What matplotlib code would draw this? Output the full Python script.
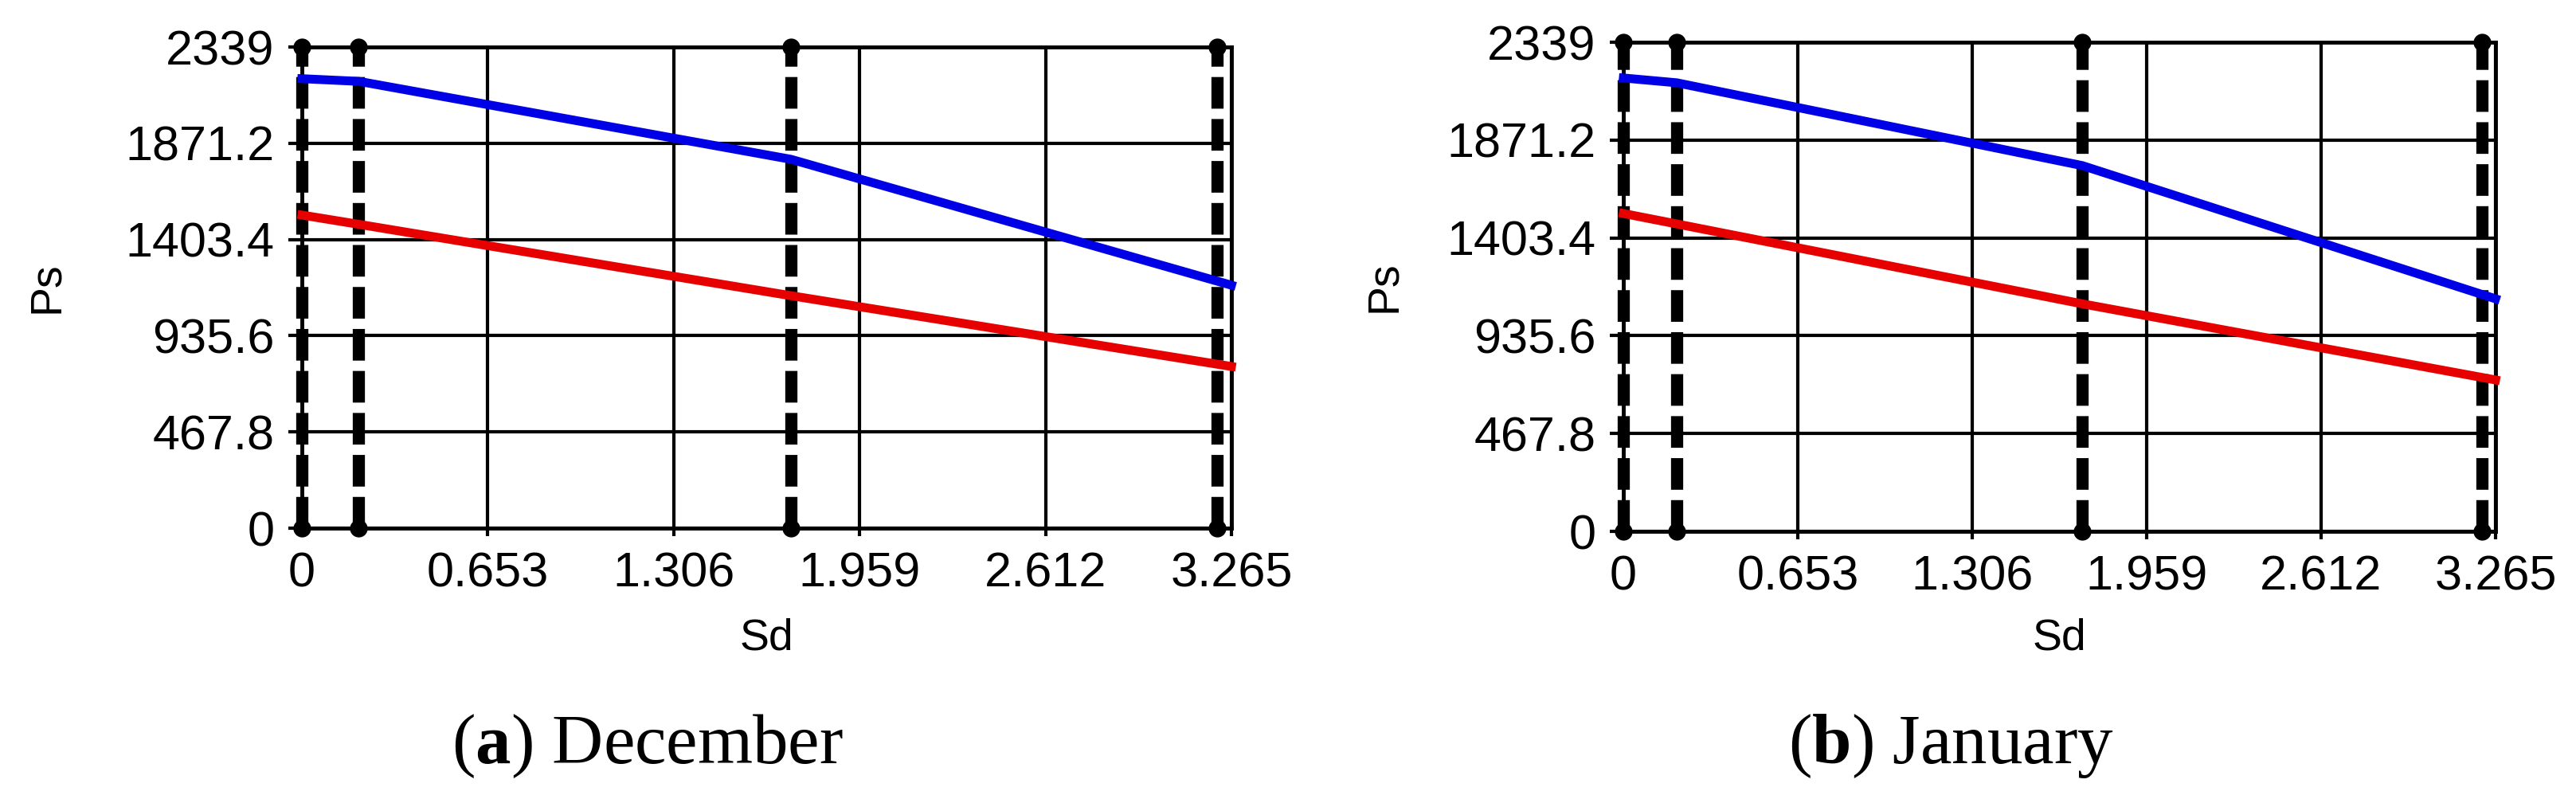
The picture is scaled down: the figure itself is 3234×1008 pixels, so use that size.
import matplotlib
matplotlib.use("Agg")
import matplotlib.pyplot as plt

# Dados
sd_pontos = [0.0, 0.2, 1.718, 3.265]
dez_azul = [2185, 2172, 1793, 1181]
dez_vermelho = [1522, 1477, 1130, 786]
jan_azul = [2168, 2145, 1749, 1112]
jan_vermelho = [1520, 1470, 1088, 724]
sd_tracejadas = [0.0, 0.2, 1.718, 3.215]

x_ticks = [0, 0.653, 1.306, 1.959, 2.612, 3.265]
x_labels = ["0", "0.653", "1.306", "1.959", "2.612", "3.265"]
y_ticks = [0, 467.8, 935.6, 1403.4, 1871.2, 2339]
y_labels = ["0", "467.8", "935.6", "1403.4", "1871.2", "2339"]
legendas = [r"($\mathbf{a}$) December", r"($\mathbf{b}$) January"]

plt.rcParams["font.family"] = ["Liberation Sans", "DejaVu Sans"]
plt.rcParams["mathtext.fontset"] = "custom"
plt.rcParams["mathtext.rm"] = "Liberation Serif"
plt.rcParams["mathtext.bf"] = "Liberation Serif:bold"

W, H = 3234, 1008
fig = plt.figure(figsize=(W / 100, H / 100), dpi=100)

# posicoes em pixels: x0, x1, y_topo, y_base, x do rotulo Ps, x da legenda
paineis = [
    (379, 1546, 59, 663, 59, 813, dez_azul, dez_vermelho, legendas[0]),
    (2038, 3133, 53, 667, 1738, 2449, jan_azul, jan_vermelho, legendas[1]),
]

for x0, x1, yt, yb, x_ps, xc, azul, vermelho, legenda in paineis:
    ax = fig.add_axes([x0 / W, 1 - yb / H, (x1 - x0) / W, (yb - yt) / H])
    ax.set_xlim(0, 3.265)
    ax.set_ylim(0, 2339)
    ax.set_xticks(x_ticks)
    ax.set_xticklabels(x_labels)
    ax.set_yticks(y_ticks)
    ax.set_yticklabels(y_labels)
    ax.grid(True, color="black", lw=3)
    ax.set_axisbelow(True)
    for sp in ax.spines.values():
        sp.set_linewidth(3.5)
        sp.set_color("black")
    ax.tick_params(axis="x", length=7, width=3, pad=14, labelsize=44)
    ax.tick_params(axis="y", length=12, width=3, pad=13, labelsize=44)

    # linhas verticais tracejadas com pontos nas pontas
    for xs in sd_tracejadas:
        ax.plot([xs, xs], [0, 2339], color="black", lw=11,
                ls=(0, (2.6, 0.85)), marker="o", ms=15, clip_on=False,
                zorder=3)

    ax.plot(sd_pontos, azul, color="#0000e6", lw=8, zorder=4, clip_on=False)
    ax.plot(sd_pontos, vermelho, color="#e60000", lw=8, zorder=4, clip_on=False)

    ax.set_xlabel("Sd", fontsize=40, va="center")
    ax.xaxis.set_label_coords(0.5, (yb - 802) / (yb - yt))
    ax.set_ylabel("Ps", fontsize=40, va="center", ha="center")
    ax.yaxis.set_label_coords((x_ps - x0) / (x1 - x0), 0.5)

    fig.text(xc / W, 1 - 958 / H, legenda, ha="center", va="baseline",
             fontsize=64, family="Liberation Serif")

fig.savefig("out.png", dpi=100, facecolor="white")
